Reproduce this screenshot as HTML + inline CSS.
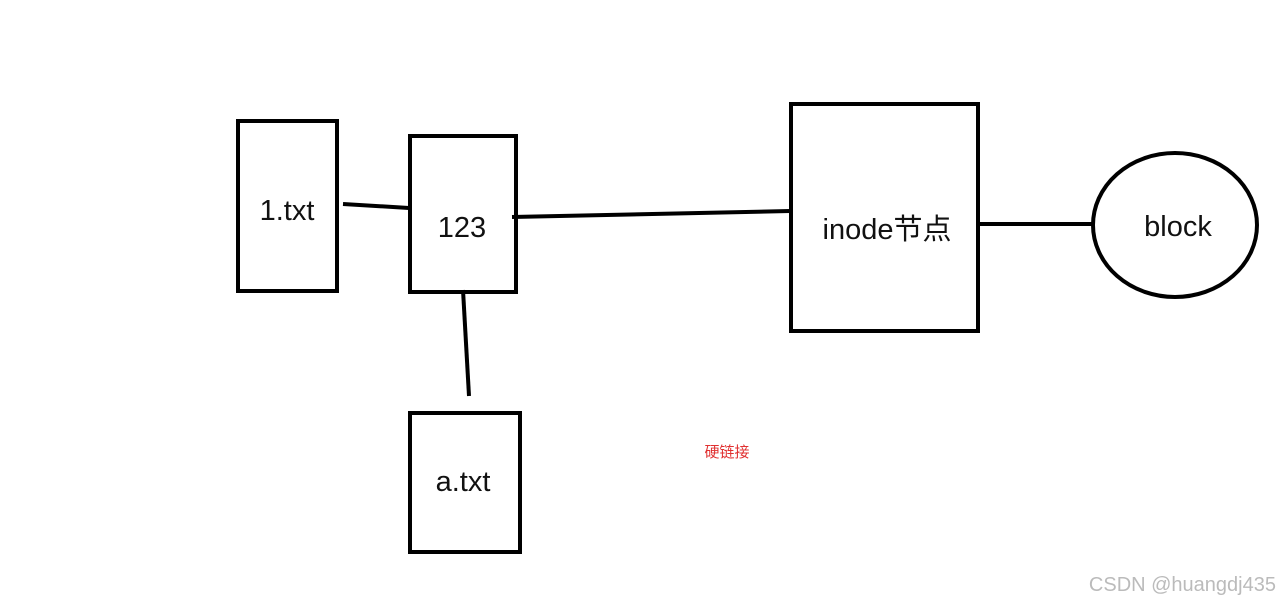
<!DOCTYPE html>
<html><head><meta charset="utf-8"><style>
body{margin:0;background:#fff;}
svg{display:block;}
</style></head><body>
<svg width="1280" height="606" xmlns="http://www.w3.org/2000/svg">
<g fill="none" stroke="#000" stroke-width="4">
<rect x="238" y="121" width="99" height="170"/>
<rect x="410" y="136" width="106" height="156"/>
<rect x="410" y="413" width="110" height="139"/>
<rect x="791" y="104" width="187" height="227"/>
<ellipse cx="1175" cy="225" rx="82" ry="72"/>
<line x1="343" y1="204" x2="409" y2="208"/>
<line x1="512" y1="217" x2="790" y2="211"/>
<line x1="463" y1="290" x2="469" y2="396"/>
<line x1="978" y1="224" x2="1092" y2="224"/>
</g>
<g font-family="'Liberation Sans','Noto Sans CJK SC',sans-serif" font-size="29" fill="#111" text-anchor="middle">
<text x="287" y="220">1.txt</text>
<text x="462" y="237">123</text>
<text x="463" y="491">a.txt</text>
<text x="887" y="239">inode节点</text>
<text x="1178" y="236">block</text>
</g>
<text x="727" y="457" font-family="'Liberation Sans','Noto Sans CJK SC',sans-serif" font-size="15" fill="#e03030" text-anchor="middle">硬链接</text>
<text x="1276" y="591" font-family="'Liberation Sans',sans-serif" font-size="20" fill="#bbb" text-anchor="end">CSDN @huangdj435</text>
</svg>
</body></html>
